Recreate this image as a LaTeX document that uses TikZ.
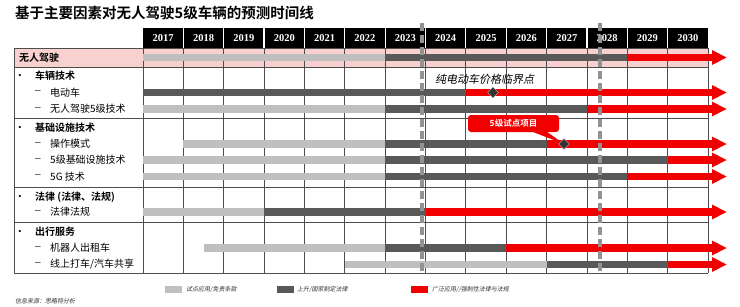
\documentclass[tikz,border=0pt]{standalone}
\usepackage{fontspec}
\usetikzlibrary{shapes.geometric}
\setmainfont{Liberation Serif}
\newfontfamily\cjk{Noto Sans CJK SC}[BoldFont={Noto Sans CJK SC Bold}]
\newfontfamily\cjkit{Noto Sans CJK SC}[FakeSlant=0.2]
\definecolor{lg}{HTML}{BFBFBF}
\definecolor{dg}{HTML}{595959}
\definecolor{rd}{HTML}{F00000}
\definecolor{pk}{HTML}{F9D0D0}
\definecolor{gridc}{HTML}{4D4D4D}
\definecolor{dashc}{HTML}{939393}
\newcommand\tlrow[4]{%
  \fill[lg] (#2,#1-3.7) rectangle (#3,#1+3.7);
  \fill[dg] (#3,#1-3.7) rectangle (#4,#1+3.7);
  \fill[rd] (#4,#1-3.7) rectangle (712.5,#1+3.7);
  \fill[rd] (712,#1-7.5) -- (726.5,#1) -- (712,#1+7.5) -- cycle;
}
\tikzset{
  yearlbl/.style={text=white,font=\bfseries\fontsize{10.5}{11}\selectfont,inner sep=0},
  seclbl/.style={anchor=west,inner sep=0,font=\cjk\bfseries\fontsize{10}{11}\selectfont},
  sublbl/.style={anchor=west,inner sep=0,font=\cjk\fontsize{10}{11}\selectfont},
  bul/.style={inner sep=0,font=\fontsize{9}{10}\selectfont},
  dsh/.style={anchor=west,inner sep=0,font=\fontsize{11}{11}\selectfont},
  dashl/.style={dashc,line width=3.2pt,dash pattern=on 8pt off 4pt},
  dia/.style={diamond,fill=black!80,draw=white!75!black,line width=0.4pt,minimum width=11pt,minimum height=11pt,inner sep=0},
  callbox/.style={rounded corners=3pt,fill=rd,text=white,minimum width=91pt,minimum height=17pt,inner sep=0,font=\cjk\bfseries\fontsize{8.5}{9}\selectfont},
  sw/.style={minimum width=17pt,minimum height=7pt,inner sep=0},
  legtxt/.style={anchor=west,inner sep=0,font=\cjkit\fontsize{6}{7}\selectfont,text=black!80},
}
\begin{document}
\begin{tikzpicture}[x=1pt,y=-1pt]
\useasboundingbox (0,0) rectangle (740,306);
\fill[white] (0,0) rectangle (740,306);
% title
\node[anchor=west,inner sep=0,font=\cjk\bfseries\fontsize{14.5}{16}\selectfont] (title) at (15,13) {基于主要因素对无人驾驶5级车辆的预测时间线};
% header
\fill[black] (143,28) rectangle (708,48);
\foreach \i in {1,...,13} \draw[white,line width=1.2pt] ({143+40.357*\i},28) -- ++(0,20);
\foreach \i [evaluate=\i as \yr using int(2017+\i)] in {0,...,13}
  \node[yearlbl] (yr\i) at ({143+40.357*(\i+0.5)},38.5) {\yr};
% pink row
\fill[pk] (14,48) rectangle (708,67);
% grid
\foreach \i in {0,...,14} \draw[gridc,line width=0.8pt] ({143+40.357*\i},48) -- ({143+40.357*\i},273);
\foreach \y in {48,67,118,187.5,222,273} \draw[gridc,line width=0.8pt] (14,\y) -- (708,\y);
\draw[gridc,line width=0.8pt] (14,48) -- (14,273);
% labels
\node[seclbl] (l0) at (19,57.5) {无人驾驶};
\node[bul] (b1) at (20,76) {•};
\node[seclbl] (l1) at (35,76) {车辆技术};
\node[dsh] (d11) at (35,92.5) {–};
\node[sublbl] (l11) at (50,92.5) {电动车};
\node[dsh] (d12) at (35,109) {–};
\node[sublbl] (l12) at (50,109) {无人驾驶5级技术};
\node[bul] (b2) at (20,128) {•};
\node[seclbl] (l2) at (35,128) {基础设施技术};
\node[dsh] (d21) at (35,144) {–};
\node[sublbl] (l21) at (50,144) {操作模式};
\node[dsh] (d22) at (35,160) {–};
\node[sublbl] (l22) at (50,160) {5级基础设施技术};
\node[dsh] (d23) at (35,176.5) {–};
\node[sublbl] (l23) at (50,176.5) {5G 技术};
\node[bul] (b3) at (20,197) {•};
\node[seclbl] (l3) at (35,197) {法律 (法律、法规)};
\node[dsh] (d31) at (35,212) {–};
\node[sublbl] (l31) at (50,212) {法律法规};
\node[bul] (b4) at (20,232) {•};
\node[seclbl] (l4) at (35,232) {出行服务};
\node[dsh] (d41) at (35,248) {–};
\node[sublbl] (l41) at (50,248) {机器人出租车};
\node[dsh] (d42) at (35,264.5) {–};
\node[sublbl] (l42) at (50,264.5) {线上打车/汽车共享};
% bars
\tlrow{57.5}{143}{385.14}{627.29}
\tlrow{92.5}{143}{143}{465.86}
\tlrow{109}{143}{385.14}{586.93}
\tlrow{144}{183.36}{385.14}{546.57}
\tlrow{160}{143}{385.14}{667.64}
\tlrow{176.5}{143}{385.14}{627.29}
\tlrow{212}{143}{264.07}{425.5}
\tlrow{248}{203.5}{385.14}{506.21}
\tlrow{264.5}{344.79}{546.57}{667.64}
% dashed markers
\coordinate (m1t) at (422,23);
\coordinate (m1b) at (422,271);
\coordinate (m2t) at (600,23);
\coordinate (m2b) at (600,271);
\draw[dashl] (m1t) -- (m1b);
\draw[dashl] (m2t) -- (m2b);
% annotations
\node[anchor=west,inner sep=0,font=\cjkit\fontsize{11}{12}\selectfont] (crit) at (435,79.5) {纯电动车价格临界点};
\node[dia] (dm1) at (493,92.5) {};
\node[callbox] (co) at (513.5,123.5) {5级试点项目};
\coordinate (dm2pos) at (564,144);
\fill[rd] ([xshift=20pt]co.south) -- ([xshift=34pt]co.south) -- (dm2pos) -- cycle;
\node[dia] (dm2) at (dm2pos) {};
% legend
\node[sw,fill=lg] (s1) at (173.5,289.5) {};
\node[legtxt] (t1) at (186,289.5) {试点应用/免责条款};
\node[sw,fill=dg] (s2) at (285,289.5) {};
\node[legtxt] (t2) at (297,289.5) {上升/国家制定法律};
\node[sw,fill=rd] (s3) at (419.5,289.5) {};
\node[legtxt] (t3) at (432,289.5) {广泛应用//强制性法律与法规};
% source
\node[legtxt] (src) at (15,301) {信息来源：思略特分析};
\end{tikzpicture}
\end{document}
